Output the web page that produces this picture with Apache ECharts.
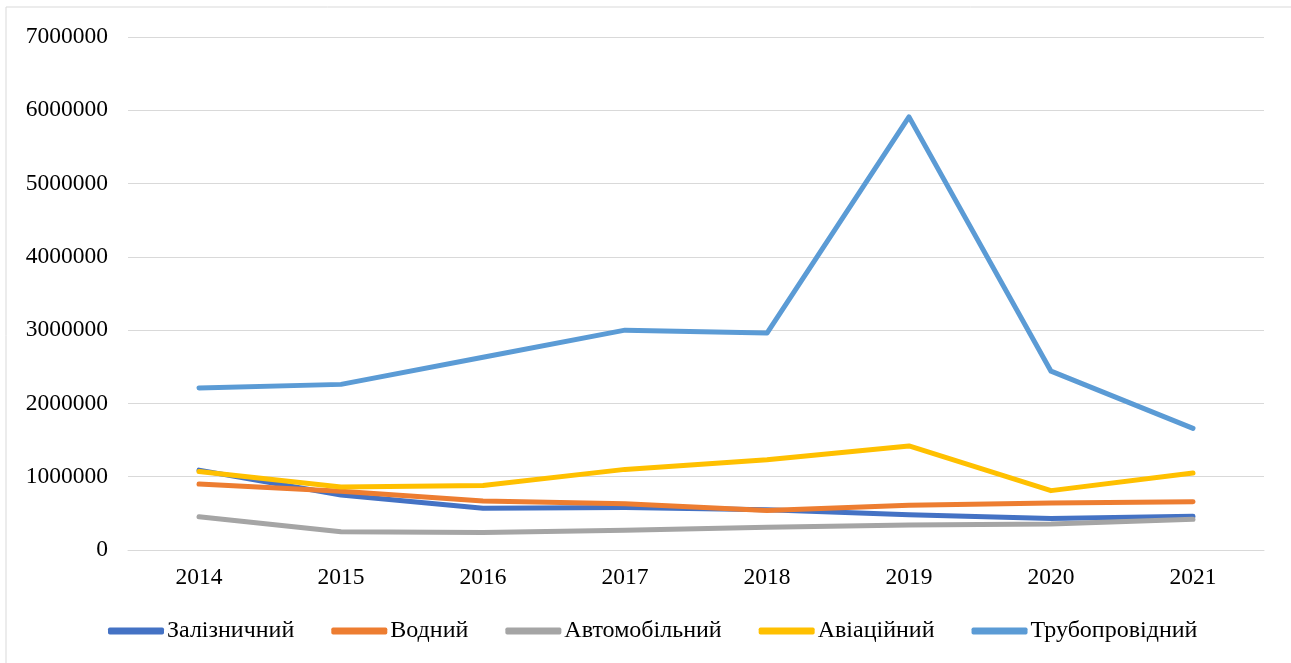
<!DOCTYPE html>
<html>
<head>
<meta charset="utf-8">
<script src="https://cdn.jsdelivr.net/npm/echarts@6/dist/echarts.min.js"></script>
<style>
  html, body { margin: 0; padding: 0; background: #fff; }
  #chart { width: 1291px; height: 663px; }
</style>
</head>
<body>
<div id="chart"></div>
<script>
// Обсяги за видами транспорту, 2014–2021
const years = ['2014', '2015', '2016', '2017', '2018', '2019', '2020', '2021'];
const railway  = [1090000, 750000, 570000, 580000, 550000, 480000, 430000, 460000];
const water    = [900000, 800000, 670000, 630000, 540000, 610000, 640000, 660000];
const road     = [455000, 250000, 240000, 270000, 310000, 340000, 355000, 420000];
const aviation = [1070000, 860000, 880000, 1100000, 1230000, 1420000, 810000, 1050000];
const pipeline = [2210000, 2260000, 2630000, 3000000, 2960000, 5910000, 2440000, 1660000];
const seriesNames = ['Залізничний', 'Водний', 'Автомобільний', 'Авіаційний', 'Трубопровідний'];
const seriesColors = ['#4472C4', '#ED7D31', '#A5A5A5', '#FFC000', '#5B9BD5'];
const seriesData = [railway, water, road, aviation, pipeline];

const fontFamily = '"Liberation Serif", "DejaVu Serif", serif';

const chart = echarts.init(document.getElementById('chart'), null, { renderer: 'canvas' });
chart.setOption({
  animation: false,
  backgroundColor: '#ffffff',
  textStyle: { fontFamily: fontFamily },
  graphic: [{
    type: 'rect',
    shape: { x: 6, y: 7, width: 1300, height: 680 },
    style: { fill: 'none', stroke: '#d9d9d9', lineWidth: 1 },
    silent: true
  }],
  grid: { left: 128, right: 27, top: 37, bottom: 113, containLabel: false },
  legend: {
    top: 614,
    left: 103,
    icon: 'roundRect',
    itemWidth: 56,
    itemHeight: 7,
    itemGap: 37,
    textStyle: { fontFamily: fontFamily, fontSize: 24, color: '#000', padding: [0, 0, 0, -2] },
    data: seriesNames
  },
  xAxis: {
    type: 'category',
    data: years,
    boundaryGap: true,
    axisLine: { show: true, lineStyle: { color: '#d9d9d9', width: 1 } },
    axisTick: { show: false },
    axisLabel: { fontFamily: fontFamily, fontSize: 23.5, color: '#000', margin: 16 }
  },
  yAxis: {
    type: 'value',
    min: 0,
    max: 7000000,
    interval: 1000000,
    axisLine: { show: false },
    axisTick: { show: false },
    splitLine: { lineStyle: { color: '#d9d9d9', width: 1 } },
    axisLabel: {
      fontFamily: fontFamily, fontSize: 23.5, color: '#000', margin: 20,
      formatter: (v) => String(v)
    }
  },
  series: seriesNames.map((name, i) => ({
    name: name,
    type: 'line',
    data: seriesData[i],
    symbol: 'none',
    showSymbol: false,
    lineStyle: { width: 5, color: seriesColors[i], cap: 'round', join: 'round' },
    itemStyle: { color: seriesColors[i] }
  }))
});
</script>
</body>
</html>
